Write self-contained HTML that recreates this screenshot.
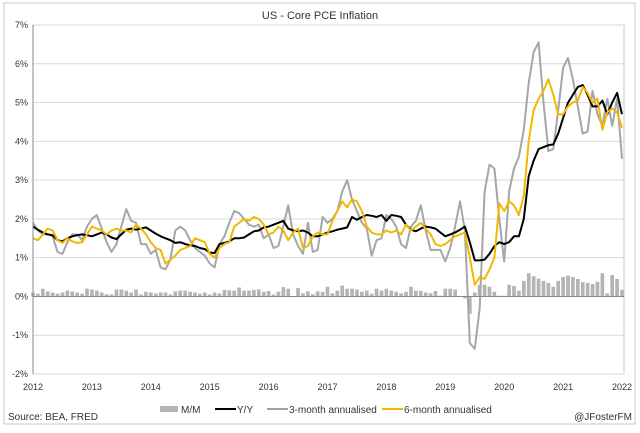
<!DOCTYPE html>
<html><head><meta charset="utf-8">
<style>
html,body{margin:0;padding:0;background:#fff;}
body{width:640px;height:428px;overflow:hidden;font-family:"Liberation Sans",sans-serif;}
svg text{font-family:"Liberation Sans",sans-serif;fill:#333;}
</style></head>
<body>
<svg id="chart" width="640" height="428" viewBox="0 0 640 428" xmlns="http://www.w3.org/2000/svg">
<rect x="4" y="3" width="631" height="421" fill="#fff" stroke="#c8c8c8"/>
<text x="320" y="19" text-anchor="middle" font-size="11">US - Core PCE Inflation</text>
<g id="grid"></g>
<g id="bars"></g>
<g id="lines"></g>
<g id="axes"></g>
<g font-size="10">
<rect x="160" y="406" width="18" height="6" fill="#b4b4b4"/>
<text x="181" y="413">M/M</text>
<line x1="215" y1="409" x2="236" y2="409" stroke="#000" stroke-width="2"/>
<text x="237" y="413">Y/Y</text>
<line x1="267" y1="409" x2="288" y2="409" stroke="#a0a0a0" stroke-width="2"/>
<text x="289" y="413">3-month annualised</text>
<line x1="382" y1="409" x2="403" y2="409" stroke="#f2b800" stroke-width="2"/>
<text x="404" y="413">6-month annualised</text>
</g>
<text x="8" y="420" font-size="10">Source: BEA, FRED</text>
<text x="632" y="420" font-size="10" text-anchor="end">@JFosterFM</text>
</svg>
<script>
const yearLabels = ["2012","2013","2014","2015","2016","2017","2018","2019","2020","2021","2022"];
const yTicks = [-2,-1,0,1,2,3,4,5,6,7];
const yy = [1.8,1.72,1.65,1.6,1.58,1.45,1.42,1.5,1.55,1.58,1.6,1.58,
1.55,1.6,1.65,1.6,1.52,1.48,1.6,1.72,1.75,1.72,1.75,1.78,
1.7,1.62,1.55,1.5,1.45,1.38,1.4,1.35,1.32,1.3,1.25,1.22,
1.13,1.12,1.35,1.38,1.42,1.5,1.5,1.52,1.6,1.68,1.7,1.78,
1.8,1.85,1.9,1.95,1.75,1.7,1.68,1.7,1.65,1.55,1.55,1.6,
1.65,1.68,1.72,1.75,1.78,2.05,1.98,2.05,2.1,2.08,2.05,2.1,
1.95,2.1,2.08,2.05,1.85,1.72,1.68,1.75,1.8,1.78,1.75,1.65,
1.55,1.6,1.65,1.72,1.8,1.4,0.93,0.93,0.95,1.1,1.3,1.4,
1.35,1.4,1.55,1.55,2.0,3.1,3.5,3.8,3.85,3.9,3.92,4.2,
4.6,5.0,5.2,5.4,5.45,5.2,4.9,4.9,5.05,4.7,5.0,5.25,
4.7];
const m6 = [1.5,1.45,1.6,1.75,1.7,1.45,1.38,1.5,1.42,1.38,1.4,1.6,
1.8,1.75,1.7,1.6,1.7,1.75,1.7,1.7,1.65,1.85,1.75,1.6,
1.4,1.25,1.2,0.85,0.95,1.05,1.2,1.25,1.3,1.5,1.45,1.4,
1.1,1.0,1.25,1.35,1.4,1.8,1.9,2.0,1.95,2.05,2.0,1.85,
1.6,1.65,1.8,1.7,1.45,1.65,1.75,1.25,1.3,1.55,1.65,1.6,
1.6,1.95,2.2,2.45,2.3,2.5,2.45,2.2,1.8,1.65,1.6,1.6,
1.7,1.65,1.7,1.6,1.85,1.7,1.8,1.9,1.75,1.6,1.35,1.3,
1.35,1.45,1.55,1.6,1.65,1.0,0.3,0.5,0.45,0.7,1.0,2.4,
2.2,2.45,2.35,2.1,2.6,4.0,4.8,5.1,5.3,5.6,5.2,4.7,
4.7,4.9,5.0,5.05,5.4,5.25,5.0,5.1,4.3,4.75,4.85,4.75,
4.35];
const m3 = [1.9,1.7,1.6,1.6,1.55,1.15,1.1,1.4,1.6,1.6,1.45,1.8,
2.0,2.1,1.75,1.4,1.15,1.35,1.8,2.25,1.95,1.9,1.35,1.35,
1.1,1.2,0.75,0.7,0.95,1.7,1.8,1.7,1.45,1.25,1.15,1.05,
0.85,0.75,1.35,1.55,1.9,2.2,2.15,2.0,1.85,1.8,1.85,1.5,
1.6,1.25,1.3,1.8,2.35,1.6,1.3,1.1,1.9,1.15,1.2,2.05,
1.9,2.0,2.2,2.7,3.0,2.5,2.2,1.9,1.75,1.05,1.45,1.5,
2.1,2.0,1.8,1.35,1.25,1.8,1.95,2.35,1.7,1.2,1.2,1.2,
0.9,1.25,1.8,2.45,1.7,-1.2,-1.35,-0.3,2.7,3.4,3.3,2.0,
0.9,2.7,3.3,3.6,4.3,5.5,6.3,6.55,5.0,3.75,3.8,4.8,
5.9,6.15,5.6,4.9,4.2,4.25,5.3,4.7,4.4,5.1,4.4,5.1,
3.55];
const mm = [.1,.07,.2,.13,.1,.07,.1,.15,.13,.1,.07,.2,
.18,.15,.1,.06,.05,.18,.18,.15,.1,.18,.05,.12,
.1,.08,.1,.1,.05,.13,.15,.15,.12,.1,.07,.1,
.05,.1,.08,.17,.16,.15,.23,.15,.15,.17,.18,.12,
.14,.05,.12,.24,.2,-.02,.22,.08,.13,.06,.13,.12,
.25,.08,.15,.28,.2,.2,.18,.12,.15,.07,.2,.15,
.2,.15,.12,.08,.12,.25,.15,.14,.1,.08,.14,.02,
.2,.2,.18,.0,-.05,-.45,.1,.3,.3,.25,.12,.02,
.02,.3,.27,.15,.4,.6,.52,.46,.4,.35,.25,.4,
.5,.54,.5,.45,.37,.35,.32,.38,.6,.08,.55,.45,
.17];
const NS='http://www.w3.org/2000/svg';
const X0=33,X1=622,YT=25,YB=374,VMIN=-2,VMAX=7;
function xs(i){return X0+(X1-X0)*i/120;}
function ys(v){return YB-(v-VMIN)/(VMAX-VMIN)*(YB-YT);}
function mk(tag,attrs,parent){const e=document.createElementNS(NS,tag);for(const k in attrs)e.setAttribute(k,attrs[k]);parent.appendChild(e);return e;}
const grid=document.getElementById('grid'),axes=document.getElementById('axes'),bars=document.getElementById('bars'),lines=document.getElementById('lines');
mk('rect',{x:X0,y:YT,width:X1-X0+2,height:YB-YT,fill:'none',stroke:'#c8c8c8'},grid);
yTicks.forEach(t=>{
  const l=mk('line',{x1:X0,x2:X1+2,y1:ys(t),y2:ys(t),stroke:'#d9d9d9','stroke-width':1},grid);
  
  
  const tx=mk('text',{x:28,y:ys(t)+3,'text-anchor':'end','font-size':9},axes);
  tx.textContent=t+'%';
  
  
});
yearLabels.forEach((lab,k)=>{
  const tx=mk('text',{x:xs(k*12),y:390,'text-anchor':'middle','font-size':9},axes);
  tx.textContent=lab;
  
  
});
mk('line',{x1:X0,x2:X0,y1:YT,y2:YB,stroke:'#888'},axes);
mk('line',{x1:X0,x2:X1+2,y1:ys(0),y2:ys(0),stroke:'#888'},axes);
const bw=(X1-X0)/120*0.75;
mm.forEach((v,i)=>{
  const y0=ys(0),y1=ys(v);
  const r=mk('rect',{x:xs(i)-bw/2,y:Math.min(y0,y1),width:bw,height:Math.max(0.5,Math.abs(y1-y0)),fill:'#b4b4b4'},bars);
  
  
});
function line(arr,color,name){
  const p=mk('polyline',{points:arr.map((v,i)=>xs(i).toFixed(1)+','+ys(v).toFixed(1)).join(' '),fill:'none',stroke:color,'stroke-width':2,'stroke-linejoin':'round'},lines);
  
  
}
line(m3,'#a6a6a6','line-3m-annualised');
line(yy,'#000','line-yy');
line(m6,'#f2b800','line-6m-annualised');
</script>
</body></html>
